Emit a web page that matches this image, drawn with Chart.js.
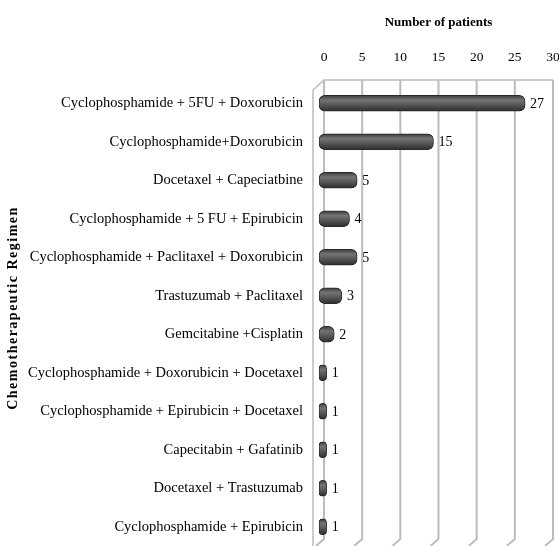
<!DOCTYPE html>
<html>
<head>
<meta charset="utf-8">
<script src="https://cdn.jsdelivr.net/npm/chart.js@4/dist/chart.umd.min.js"></script>
<style>
  html, body { margin: 0; padding: 0; background: #fff; }
  #wrap { width: 559px; height: 546px; }
</style>
</head>
<body>
<div id="wrap"><canvas id="myChart"></canvas></div>
<script>
const regimens = [
  'Cyclophosphamide + 5FU + Doxorubicin',
  'Cyclophosphamide+Doxorubicin',
  'Docetaxel + Capeciatbine',
  'Cyclophosphamide + 5 FU + Epirubicin',
  'Cyclophosphamide + Paclitaxel + Doxorubicin',
  'Trastuzumab + Paclitaxel',
  'Gemcitabine +Cisplatin',
  'Cyclophosphamide + Doxorubicin + Docetaxel',
  'Cyclophosphamide + Epirubicin + Docetaxel',
  'Capecitabin + Gafatinib',
  'Docetaxel + Trastuzumab',
  'Cyclophosphamide + Epirubicin'
];
const patients = [27, 15, 5, 4, 5, 3, 2, 1, 1, 1, 1, 1];
const xTicks = [0, 5, 10, 15, 20, 25, 30];

const serif = '"Liberation Serif", "DejaVu Serif", serif';
const shift = 5; // bars sit on the front plane of the 3d box

// cylinder look: vertical gradient for each bar
function barFill(context) {
  const chart = context.chart;
  if (!chart.chartArea || context.dataIndex === undefined) return '#555';
  const y = chart.scales.y.getPixelForValue(context.dataIndex);
  const g = chart.ctx.createLinearGradient(0, y - 8, 0, y + 8);
  g.addColorStop(0, '#3a3a3a');
  g.addColorStop(0.3, '#747474');
  g.addColorStop(0.55, '#5c5c5c');
  g.addColorStop(1, '#2c2c2c');
  return g;
}

// grid of the 3d box, drawn from the x scale
const frame = {
  id: 'frame',
  beforeDatasetsDraw(chart) {
    const ctx = chart.ctx;
    const x = chart.scales.x;
    const top = 80, bottom = 539;
    ctx.save();
    ctx.strokeStyle = '#bcbcbc';
    ctx.lineWidth = 2;
    xTicks.forEach(v => {
      const px = x.getPixelForValue(v);
      ctx.beginPath();
      ctx.moveTo(px, top);
      ctx.lineTo(px, bottom);
      ctx.lineTo(px - 8, chart.height);
      ctx.stroke();
    });
    ctx.lineWidth = 1.5;
    ctx.beginPath();
    ctx.moveTo(x.getPixelForValue(0) - 11, chart.height);
    ctx.lineTo(x.getPixelForValue(0) - 11, top + 10);
    ctx.lineTo(x.getPixelForValue(0), top);
    ctx.lineTo(x.getPixelForValue(30), top);
    ctx.stroke();
    ctx.restore();
    ctx.save();
    ctx.translate(-shift, 0);
  },
  afterDatasetsDraw(chart) {
    chart.ctx.restore();
    const ctx = chart.ctx;
    const meta = chart.getDatasetMeta(0);
    ctx.save();
    ctx.font = '14px ' + serif;
    ctx.fillStyle = '#000';
    ctx.textBaseline = 'middle';
    meta.data.forEach((bar, i) => {
      ctx.fillText(String(patients[i]), bar.x - shift + 5, bar.y + 1);
    });
    ctx.restore();
  },
  afterDraw(chart) {
    const ctx = chart.ctx;
    ctx.save();
    ctx.translate(13, 308);
    ctx.rotate(-Math.PI / 2);
    ctx.font = 'bold 14px ' + serif;
    ctx.letterSpacing = '1.5px';
    ctx.fillStyle = '#000';
    ctx.textAlign = 'center';
    ctx.textBaseline = 'middle';
    ctx.fillText('Chemotherapeutic Regimen', 0, 0);
    ctx.restore();
  }
};

new Chart(document.getElementById('myChart'), {
  type: 'bar',
  data: {
    labels: regimens,
    datasets: [{
      label: 'Number of patients',
      data: patients,
      backgroundColor: barFill,
      borderColor: '#2a2a2a',
      borderWidth: 1,
      borderRadius: 6,
      borderSkipped: false,
      barThickness: 16
    }]
  },
  options: {
    indexAxis: 'y',
    responsive: true,
    maintainAspectRatio: false,
    animation: false,
    layout: { padding: { left: 0, right: 6, top: 0, bottom: 0 } },
    plugins: {
      legend: { display: false },
      tooltip: { enabled: false }
    },
    scales: {
      x: {
        position: 'top',
        min: 0,
        max: 30,
        afterBuildTicks(scale) {
          scale.ticks = xTicks.map(v => ({ value: v }));
        },
        afterFit(scale) {
          scale.height = 84;
          scale.paddingLeft = 0;
          scale.paddingRight = 0;
        },
        grid: { display: false },
        border: { display: false },
        ticks: {
          color: '#000',
          padding: 10,
          font: { family: serif, size: 13.5 }
        },
        title: {
          display: true,
          text: 'Number of patients',
          color: '#000',
          padding: { top: 15, bottom: 0 },
          font: { family: serif, size: 13, weight: 'bold' }
        }
      },
      y: {
        afterFit(scale) {
          scale.width = 324;
          scale.paddingTop = 0;
          scale.paddingBottom = 0;
        },
        grid: { display: false },
        border: { display: false },
        ticks: {
          color: '#000',
          padding: 13,
          font: { family: serif, size: 14.5 }
        }
      }
    }
  },
  plugins: [frame]
});
</script>
</body>
</html>
